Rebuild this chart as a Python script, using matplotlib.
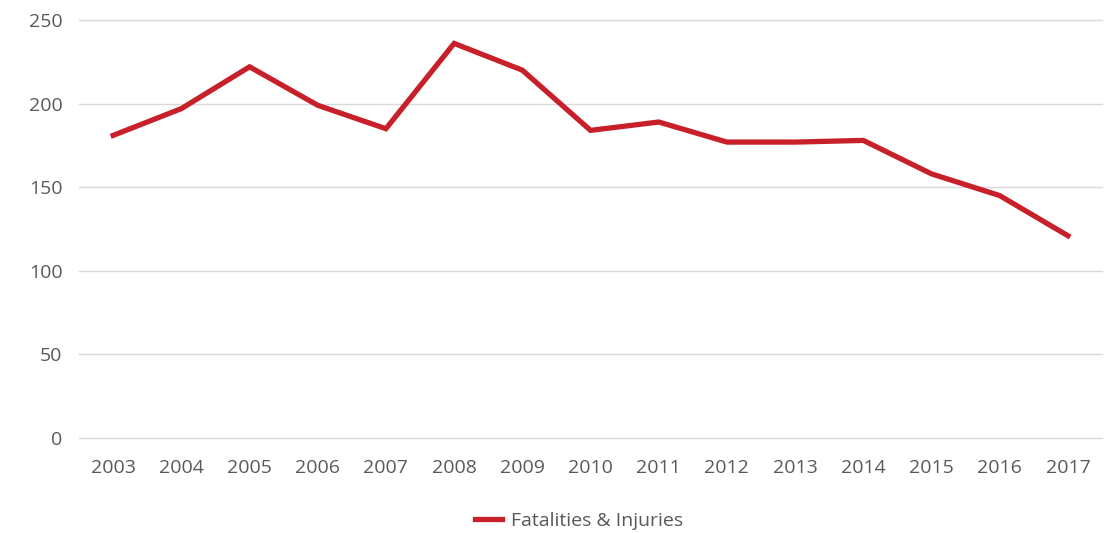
import matplotlib
matplotlib.use("Agg")
import matplotlib.pyplot as plt

years = ['2003', '2004', '2005', '2006', '2007', '2008', '2009', '2010',
         '2011', '2012', '2013', '2014', '2015', '2016', '2017']
values = [181, 197, 222, 199, 185, 236, 220, 184, 189, 177, 177, 178, 158, 145, 121]

plt.rcParams['font.family'] = ['Open Sans', 'DejaVu Sans']

fig = plt.figure(figsize=(11.07, 5.33), dpi=100)
ax = fig.add_axes([0.0714, 0.178, 0.9241, 0.7845])

x = list(range(len(years)))
ax.plot(x, values, color='#C8202A', linewidth=3.8, solid_joinstyle='miter',
        label='Fatalities & Injuries')

ax.set_xlim(-0.5, len(years) - 0.5)
ax.set_ylim(0, 250)
ax.set_yticks(range(0, 251, 50))
ax.set_xticks(x)
ax.set_xticklabels(years)

ax.grid(axis='y', color='#D9D9D9', linewidth=1)
for gl in ax.get_ygridlines():
    gl.set_clip_on(False)
ax.set_axisbelow(True)
for s in ax.spines.values():
    s.set_visible(False)
ax.tick_params(axis='both', length=0, labelsize=14, colors='#595959')
ax.tick_params(axis='x', pad=15)
ax.tick_params(axis='y', pad=12)

fig.legend(loc='center', bbox_to_anchor=(0.523, 0.022), frameon=False,
           fontsize=14, labelcolor='#595959', handlelength=1.4, handletextpad=0.45)

fig.savefig('out.png', dpi=100)
